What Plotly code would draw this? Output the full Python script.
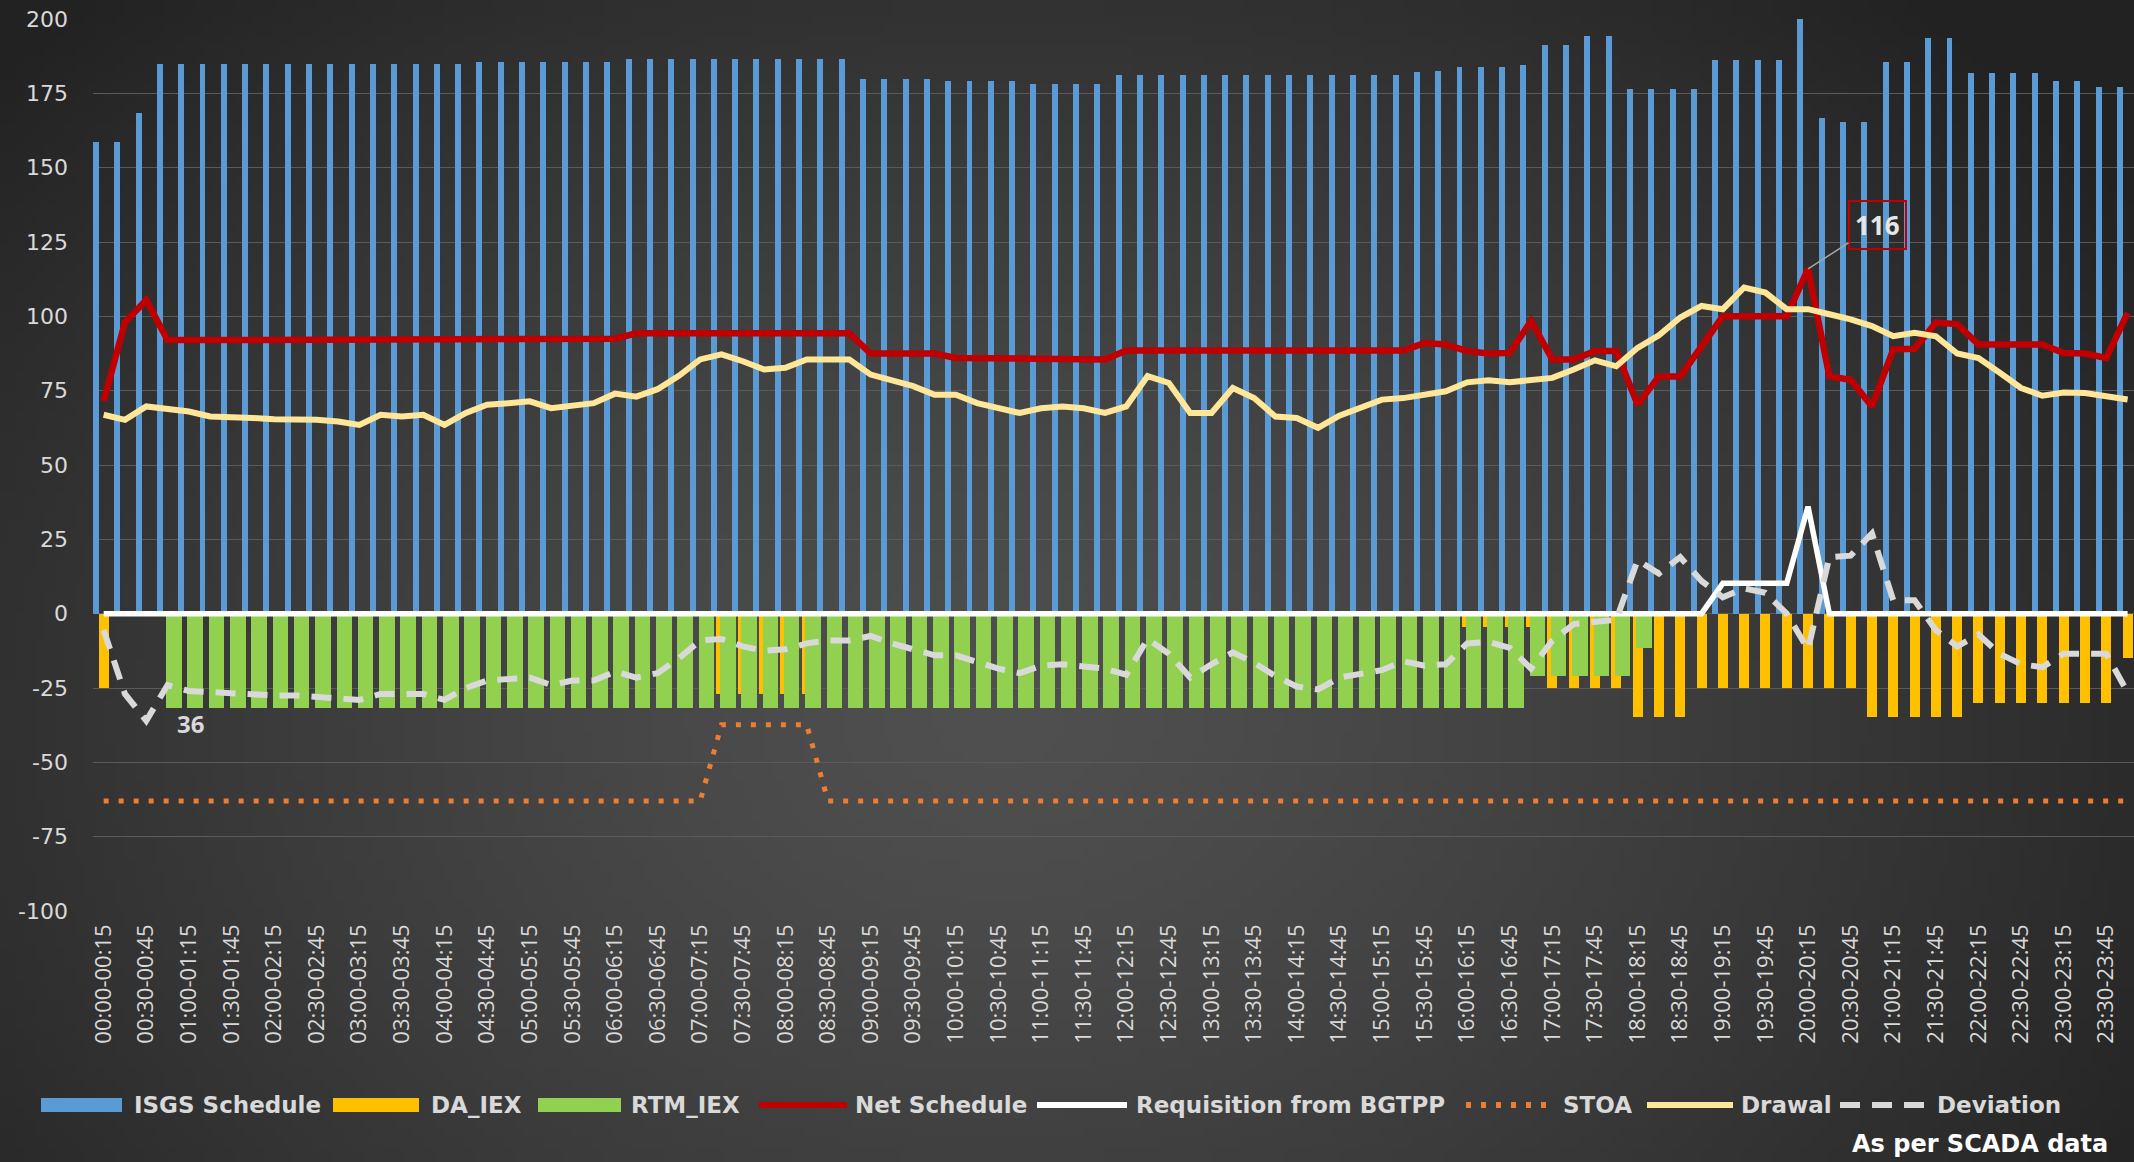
import base64
import struct
import zlib

import numpy as np
import plotly.graph_objects as go

# ---------------- data ----------------
blocks = []
for k in range(96):
    a = k * 15
    b = a + 15
    blocks.append(f"{a // 60:02d}:{a % 60:02d}-{(b // 60) % 24:02d}:{b % 60:02d}")

isgs_schedule = [
    158.5, 158.5, 168.5, 185, 185, 185, 185, 185, 185, 185,
    185, 185, 185, 185, 185, 185, 185, 185, 185.5, 185.5,
    185.5, 185.5, 185.5, 185.5, 185.5, 186.7, 186.7, 186.7, 186.7, 186.7,
    186.7, 186.7, 186.7, 186.7, 186.7, 186.7, 179.7, 179.7, 179.7, 179.7,
    179, 179, 179.3, 179.3, 178, 178, 178, 178, 181, 181,
    181, 181, 181, 181, 181, 181, 181, 181, 181, 181,
    181, 181, 182.2, 182.5, 184, 184, 184, 184.5, 191.3, 191.3,
    194.4, 194.4, 176.4, 176.4, 176.4, 176.4, 186.3, 186.3, 186.3, 186.3,
    200, 166.8, 165.4, 165.4, 185.4, 185.4, 193.6, 193.6, 181.9, 181.9,
    181.9, 181.9, 179, 179, 177.1, 177.1,
]

da_iex = [
    -25, 0, 0, 0, 0, 0, 0, 0, 0, 0,
    0, 0, 0, 0, 0, 0, 0, 0, 0, 0,
    0, 0, 0, 0, 0, 0, 0, 0, 0, -27,
    -27, -27, -27, -27, 0, 0, 0, 0, 0, 0,
    0, 0, 0, 0, 0, 0, 0, 0, 0, 0,
    0, 0, 0, 0, 0, 0, 0, 0, 0, 0,
    0, 0, 0, 0, -4.5, -4.5, -4.5, -4.5, -25, -25,
    -25, -25, -34.8, -34.8, -34.8, -25, -25, -25, -25, -25,
    -25, -25, -25, -34.8, -34.8, -34.8, -34.8, -34.8, -30, -30,
    -30, -30, -30, -30, -30, -14.8,
]

rtm_iex = [
    0, 0, 0, -31.7, -31.7, -31.7, -31.7, -31.7, -31.7, -31.7,
    -31.7, -31.7, -31.7, -31.7, -31.7, -31.7, -31.7, -31.7, -31.7, -31.7,
    -31.7, -31.7, -31.7, -31.7, -31.7, -31.7, -31.7, -31.7, -31.7, -31.7,
    -31.7, -31.7, -31.7, -31.7, -31.7, -31.7, -31.7, -31.7, -31.7, -31.7,
    -31.7, -31.7, -31.7, -31.7, -31.7, -31.7, -31.7, -31.7, -31.7, -31.7,
    -31.7, -31.7, -31.7, -31.7, -31.7, -31.7, -31.7, -31.7, -31.7, -31.7,
    -31.7, -31.7, -31.7, -31.7, -31.7, -31.7, -31.7, -21, -21, -21,
    -21, -21, -11.4, 0, 0, 0, 0, 0, 0, 0,
    0, 0, 0, 0, 0, 0, 0, 0, 0, 0,
    0, 0, 0, 0, 0, 0,
]

net_schedule = [
    71.5, 98, 105.5, 92, 92, 92, 92, 92, 92, 92,
    92, 92, 92, 92, 92, 92, 92.5, 92.5, 92.5, 92.5,
    92.5, 92.5, 92.5, 92.5, 92.5, 94.3, 94.3, 94.3, 94.3, 94.3,
    94.3, 94.3, 94.3, 94.3, 94.3, 94.3, 87.5, 87.5, 87.5, 87.5,
    86, 86, 86, 86, 85.5, 85.5, 85.5, 85.5, 88.5, 88.5,
    88.5, 88.5, 88.5, 88.5, 88.5, 88.5, 88.5, 88.5, 88.5, 88.5,
    88.5, 88.5, 91, 90.5, 88.3, 87.5, 87.7, 98.4, 85.5, 85.5,
    88.3, 88.3, 70.3, 79.8, 79.8, 90, 100, 100, 100, 100,
    116, 79.8, 78.7, 69.7, 88.9, 89.1, 97.9, 97.4, 90.5, 90.5,
    90.5, 90.5, 87.7, 87.5, 86, 101.2,
]

requisition_bgtpp = [
    0, 0, 0, 0, 0, 0, 0, 0, 0, 0,
    0, 0, 0, 0, 0, 0, 0, 0, 0, 0,
    0, 0, 0, 0, 0, 0, 0, 0, 0, 0,
    0, 0, 0, 0, 0, 0, 0, 0, 0, 0,
    0, 0, 0, 0, 0, 0, 0, 0, 0, 0,
    0, 0, 0, 0, 0, 0, 0, 0, 0, 0,
    0, 0, 0, 0, 0, 0, 0, 0, 0, 0,
    0, 0, 0, 0, 0, 0, 10.2, 10.2, 10.2, 10.2,
    36, 0, 0, 0, 0, 0, 0, 0, 0, 0,
    0, 0, 0, 0, 0, 0,
]

stoa = [
    -63, -63, -63, -63, -63, -63, -63, -63, -63, -63,
    -63, -63, -63, -63, -63, -63, -63, -63, -63, -63,
    -63, -63, -63, -63, -63, -63, -63, -63, -63, -37.4,
    -37.4, -37.4, -37.4, -37.4, -63, -63, -63, -63, -63, -63,
    -63, -63, -63, -63, -63, -63, -63, -63, -63, -63,
    -63, -63, -63, -63, -63, -63, -63, -63, -63, -63,
    -63, -63, -63, -63, -63, -63, -63, -63, -63, -63,
    -63, -63, -63, -63, -63, -63, -63, -63, -63, -63,
    -63, -63, -63, -63, -63, -63, -63, -63, -63, -63,
    -63, -63, -63, -63, -63, -63,
]

drawal = [
    66.9, 65.2, 69.7, 69.1, 68, 66.3, 65.8, 65.8, 65.4, 65.4,
    65.2, 64.6, 63.5, 66.9, 66.3, 66.9, 63.5, 67.5, 70.3, 70.8,
    71.4, 69.1, 69.7, 70.8, 74, 73, 75.5, 80, 85.5, 87.2,
    84.9, 82.1, 82.7, 85.5, 85.5, 85.5, 80.4, 78.7, 76.5, 73.6,
    73.6, 70.8, 69.1, 67.5, 69.1, 69.7, 69.1, 67.5, 69.7, 79.9,
    77.6, 67.5, 67.5, 75.9, 72.5, 66.3, 65.8, 62.5, 66.6, 69.1,
    72, 72.5, 73.6, 74.8, 77.8, 78.5, 77.8, 78.7, 79.3, 82.1,
    85.2, 83.2, 89.4, 93.6, 99.6, 103.5, 102.4, 109.7, 108, 102.4,
    102.4, 100.7, 99, 96.7, 93.3, 94.5, 93.3, 87.5, 86, 81,
    75.9, 73.3, 74.4, 74.2, 73, 72,
]

deviation = [
    -5.5, -27, -36, -24, -26, -26.5, -27, -27.5, -27.5, -27.5,
    -28, -28.5, -29, -27, -27, -27, -29, -25, -22.5, -22,
    -21.5, -24, -22.5, -22.5, -19.5, -21.5, -20, -15, -9, -8.5,
    -11, -12.5, -12, -10, -9, -9, -7.5, -10, -12, -14,
    -14, -16.5, -18.5, -20, -17.5, -17, -18, -18.5, -20.5, -8.5,
    -13.5, -21.5, -17, -13, -16.5, -21, -24.5, -25.5, -21.5, -20,
    -19, -16, -17.5, -17, -10, -9.5, -11.5, -18.5, -9, -3.5,
    -3, -2, 18, 13.5, 19, 11, 5.5, 8.5, 7, 0,
    -12, 19, 19.5, 27, 4.5, 4.5, -5.5, -11, -7, -13.5,
    -17, -18, -13.5, -13.5, -13.5, -26.5,
]

y_tick_values = [200, 175, 150, 125, 100, 75, 50, 25, 0, -25, -50, -75, -100]
y_tick_labels = ["200", "175", "150", "125", "100", "75", "50", "25", "0",
                 "-25", "-50", "-75", "-100"]
x_tick_labels = blocks[::2]

legend_names = ["ISGS Schedule", "DA_IEX", "RTM_IEX", "Net Schedule",
                "Requisition from BGTPP", "STOA", "Drawal", "Deviation"]

# ---------------- styling ----------------
C_ISGS = "#5b9bd5"
C_DA = "#ffc000"
C_RTM = "#92d050"
C_NET = "#c00000"
C_REQ = "#ffffff"
C_STOA = "#ed7d31"
C_DRAW = "#ffe699"
C_DEV = "#d9d9d9"
TXT = "#d9d9d9"
FONT = "Open Sans"
LEG_FONT = "DejaVu Sans"

W, H = 2134, 1162
L, R, T, B = 93, 2134, 19, 911


def px(X):
    return (X - L) / (R - L)


def py(Y):
    return (B - Y) / (B - T)


# background radial gradient image
gw, gh = 214, 117
xs = (np.arange(gw) + 0.5) * W / gw
ys = (np.arange(gh) + 0.5) * H / gh
XX, YY = np.meshgrid(xs, ys)
rr = np.sqrt(((XX - 1000) / 1350) ** 2 + ((YY - 720) / 1000) ** 2)
rr = np.clip(rr, 0, 1) ** 1.3
val = 80 - (80 - 34) * rr
img = np.clip(np.stack([val, val, val], axis=-1), 0, 255).astype(np.uint8)


def png_bytes(arr):
    h, w, _ = arr.shape
    raw = b"".join(b"\x00" + arr[j].tobytes() for j in range(h))

    def chunk(t, d):
        c = struct.pack(">I", len(d)) + t + d
        return c + struct.pack(">I", zlib.crc32(t + d) & 0xFFFFFFFF)

    return (b"\x89PNG\r\n\x1a\n"
            + chunk(b"IHDR", struct.pack(">IIBBBBB", w, h, 8, 2, 0, 0, 0))
            + chunk(b"IDAT", zlib.compress(raw, 9))
            + chunk(b"IEND", b""))


bg_src = "data:image/png;base64," + base64.b64encode(png_bytes(img)).decode()

fig = go.Figure()

fig.add_trace(go.Bar(x=blocks, y=isgs_schedule, name=legend_names[0],
                     marker=dict(color=C_ISGS, line=dict(width=0)),
                     offset=-0.5, width=0.28, showlegend=False))
fig.add_trace(go.Bar(x=blocks, y=da_iex, name=legend_names[1],
                     marker=dict(color=C_DA, line=dict(width=0)),
                     offset=-0.235, width=0.47, showlegend=False))
fig.add_trace(go.Bar(x=blocks, y=rtm_iex, name=legend_names[2],
                     marker=dict(color=C_RTM, line=dict(width=0)),
                     offset=-0.07, width=0.73, showlegend=False))

fig.add_trace(go.Scatter(x=blocks, y=net_schedule, name=legend_names[3], mode="lines",
                         line=dict(color=C_NET, width=6.5), showlegend=False))
fig.add_trace(go.Scatter(x=blocks, y=requisition_bgtpp, name=legend_names[4], mode="lines",
                         line=dict(color=C_REQ, width=5.5), showlegend=False))
fig.add_trace(go.Scatter(x=blocks, y=stoa, name=legend_names[5], mode="lines",
                         line=dict(color=C_STOA, width=5, dash="5px,10px"), showlegend=False))
fig.add_trace(go.Scatter(x=blocks, y=drawal, name=legend_names[6], mode="lines",
                         line=dict(color=C_DRAW, width=6), showlegend=False))
fig.add_trace(go.Scatter(x=blocks, y=deviation, name=legend_names[7], mode="lines",
                         line=dict(color=C_DEV, width=6, dash="20px,12px"), showlegend=False))

shapes = []
annotations = []

# custom legend
leg_y = 1105
swatches = [
    ("rect", 41, 122, C_ISGS, None, 132),
    ("rect", 333, 419, C_DA, None, 429),
    ("rect", 538, 621, C_RTM, None, 629),
    ("line", 759, 847, C_NET, "solid", 853),
    ("line", 1037, 1127, C_REQ, "solid", 1134),
    ("line", 1466, 1552, C_STOA, "5px,10px", 1561),
    ("line", 1647, 1733, C_DRAW, "solid", 1739),
    ("line", 1840, 1930, C_DEV, "20px,12px", 1935),
]
for (kind, x0, x1, col, dash, tx), name in zip(swatches, legend_names):
    if kind == "rect":
        shapes.append(dict(type="rect", xref="paper", yref="paper",
                           x0=px(x0), x1=px(x1), y0=py(leg_y + 7), y1=py(leg_y - 7),
                           fillcolor=col, line=dict(width=0)))
    else:
        shapes.append(dict(type="line", xref="paper", yref="paper",
                           x0=px(x0), x1=px(x1), y0=py(leg_y), y1=py(leg_y),
                           line=dict(color=col, width=6, dash=dash)))
    annotations.append(dict(xref="paper", yref="paper", x=px(tx), y=py(leg_y),
                            xanchor="left", yanchor="middle", showarrow=False,
                            text=name, font=dict(family=LEG_FONT, size=23, color=TXT, weight=700)))

annotations.append(dict(xref="paper", yref="paper", x=px(2110), y=py(1144),
                        xanchor="right", yanchor="middle", showarrow=False,
                        text="As per SCADA data",
                        font=dict(family=LEG_FONT, size=24, color="#ffffff", weight=700)))

# data labels
annotations.append(dict(x=blocks[80], y=net_schedule[80], xref="x", yref="y",
                        text=f"{net_schedule[80]:.0f}", showarrow=True, arrowhead=0,
                        arrowwidth=1.5, arrowcolor="#a6a6a6", ax=69, ay=-44,
                        bordercolor=C_NET, borderwidth=2, borderpad=5,
                        font=dict(family=FONT, size=26, color="#e6e6e6", weight=700)))
annotations.append(dict(x=blocks[2], y=deviation[2], xref="x", yref="y",
                        text=f"{abs(deviation[2]):.0f}", showarrow=False,
                        xshift=44, yshift=-3,
                        font=dict(family=FONT, size=24, color=TXT, weight=700)))

fig.update_layout(
    width=W, height=H, autosize=False,
    margin=dict(l=L, r=W - R, t=T, b=H - B, pad=0),
    paper_bgcolor="#333333",
    plot_bgcolor="rgba(0,0,0,0)",
    barmode="overlay",
    bargap=0,
    font=dict(family=FONT, color=TXT),
    showlegend=False,
    shapes=shapes,
    annotations=annotations,
    images=[dict(source=bg_src, xref="paper", yref="paper",
                 x=px(0), y=py(0), sizex=W / (R - L), sizey=H / (B - T),
                 xanchor="left", yanchor="top", sizing="stretch", layer="below")],
    xaxis=dict(type="category", range=[-0.5, 95.3], showgrid=False, zeroline=False,
               showline=False, ticks="", tickangle=-90,
               tickmode="array", tickvals=x_tick_labels, ticktext=x_tick_labels,
               tickfont=dict(family=FONT, size=22, color=TXT), ticklabelstandoff=8),
    yaxis=dict(range=[-100, 200], showgrid=True, gridcolor="#5a5a5a", gridwidth=1,
               zeroline=False, showline=False, ticks="",
               tickmode="array", tickvals=y_tick_values, ticktext=y_tick_labels,
               tickfont=dict(family=LEG_FONT, size=22, color=TXT), ticklabelstandoff=24),
)

fig.write_html("out.html", config={"displayModeBar": False},
               post_script="document.body.style.margin='0';document.body.style.overflow='hidden';")
